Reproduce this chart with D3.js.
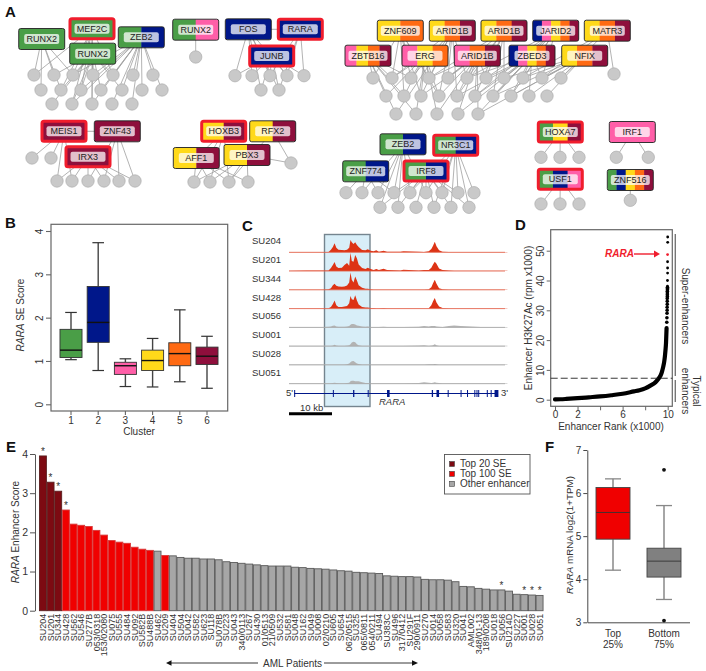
<!DOCTYPE html>
<html><head><meta charset="utf-8">
<script src="https://cdn.jsdelivr.net/npm/d3@7"></script>
<style>
html,body{margin:0;padding:0;background:#fff}
svg{display:block}
text{font-family:"Liberation Sans",Arial,sans-serif;fill:#333}
</style></head><body><svg id="c" width="706" height="671"></svg>
<script>
// ---------- colours
const G="#4a9e47",N="#00178a",P="#ff5fa8",Y="#ffd91a",O="#ff6a13",M="#8e0f3c";

// ---------- Panel A: networks (tf: name, colours, highlight, x, y, targets)
const net1Circles=[[34,75],[54,75],[73,75],[93,75],[113,75],[133,75],[153,75],[41,90],[61,90],[81,90],[101,90],[122,90],[142,90],[162,90],[52,104],[72,104],[92,104],[112,104],[132,104]];
const net1Tfs=[["RUNX2",[G],0,41.7,39,[0,1,7,8,2]],["MEF2C",[G],1,92,28.7,[2,3,8,9,15,0,16,4]],["RUNX2",[G],0,92.7,53.7,[1,2,3,8,9,10,14,15,16,4,11]],["ZEB2",[G,N],0,141.3,37.3,[3,4,5,6,9,10,11,12,13,15,16,17,18,2]]];
const net2Circles=[[195.7,57]];
const net2Tfs=[["RUNX2",[G,P],0,195.7,29.7,[0]]];
const net3Circles=[[235,75.7],[252,75.7],[270,75.7],[287,75.7],[304,75.7],[261,90],[279,90]];
const net3Tfs=[["FOS",[N],0,248.3,29.3,[0,1,2,5,6,3]],["RARA",[N],1,300.3,29.3,[2,3,4,6]],["JUNB",[N],1,271.7,56,[0,1,2,3,4,5,6]]];
const net4Circles=[[32,158],[51,158],[57,181],[72,181],[88,181],[104,181],[119,181],[135,181]];
const net4Tfs=[["MEIS1",[M],1,64,131.3,[0,1,2,3]],["ZNF43",[M],0,117.3,131.3,[5,6,7,4]],["IRX3",[M],1,88,156.7,[2,3,4,5,6,7]]];
const net5Circles=[[194,182],[210,182],[229,182],[248,182],[291,163]];
const net5Tfs=[["HOXB3",[Y,M],1,223.7,131.3,[0,1,2]],["RFX2",[Y,M],0,272.7,131.3,[4,2]],["AFF1",[Y,M],0,196.3,158,[0,1,2,3]],["PBX3",[Y,M],0,247,155,[0,1,2,3,4]]];
const net6Circles=[[373,78],[392,78],[411,78],[429,78],[448,78],[467,78],[486,78],[504,78],[523,78],[542,78],[561,78],[386,96],[404,96],[421,96],[439,96],[457,96],[475,96],[493,96],[511,96],[529,96],[547,96],[396,114],[416,114],[437,114],[458,114],[478,114],[614,74]];
const net6Tfs=[["ZNF609",[Y,O],0,400.3,30.7,[0,1,2,3,12,13,14]],["ARID1B",[Y,O,M],0,452.3,30.7,[1,2,3,4,5,13,14,15,21]],["ARID1B",[Y,O,M],0,504,30.7,[3,4,5,6,7,15,16,17]],["JARID2",[N,P,Y,O,M],0,555.7,30.7,[5,6,7,8,9,16,17,18]],["MATR3",[Y,O,M],0,607.3,30.7,[26,8,9,10]],["ZBTB16",[P,Y,O,M],0,368,55.7,[0,1,2,11,12,21,22]],["ERG",[P,Y,O],0,425,55.7,[1,2,3,11,12,13,14,22,23]],["ARID1B",[P,O,M],0,477.3,55.7,[3,4,5,6,13,14,15,16,23,24,25]],["ZBED3",[N,P,Y,O,M],0,532,55.7,[5,6,7,8,9,15,16,17,18,19,25,24]],["NFIX",[Y,O,M],0,584.7,55.7,[7,8,9,10,17,18,19,20,25]]];
const net7Circles=[[346,192.7],[362,192.7],[378,192.7],[394,192.7],[410,192.7],[426,192.7],[442,192.7],[458,192.7],[474,192.7],[380,207.3],[398,207.3],[416,207.3],[434,207.3],[451,207.3],[469,207.3]];
const net7Tfs=[["ZEB2",[G,N],0,403,144.3,[1,2,3,4,5,9,10]],["NR3C1",[G,N],1,455.7,145.3,[4,5,6,7,8,12,13,14]],["ZNF774",[G,N],0,365.7,171.3,[0,1,2,3]],["IRF8",[G,N],1,426,171,[3,4,5,6,7,9,10,11,12,13,14]]];
const net8Circles=[[541,157.3],[560,157.3],[579,157.3]];
const net8Tfs=[["HOXA7",[G,Y,M],1,560.3,132,[0,1,2]]];
const net9Circles=[[541,204],[560,204],[579,204]];
const net9Tfs=[["USF1",[G,N,P],1,560.3,179.3,[0,1,2]]];
const net10Circles=[[616.3,157.3],[648.3,157.3]];
const net10Tfs=[["IRF1",[P],0,632.3,132,[0,1]]];
const net11Circles=[[630.3,200.3]];
const net11Tfs=[["ZNF516",[G,N,Y,O,M],0,630.3,180,[0]]];
const networks=[[net1Circles,net1Tfs],[net2Circles,net2Tfs],[net3Circles,net3Tfs],[net4Circles,net4Tfs],[net5Circles,net5Tfs],[net6Circles,net6Tfs],[net7Circles,net7Tfs],[net8Circles,net8Tfs],[net9Circles,net9Tfs],[net10Circles,net10Tfs],[net11Circles,net11Tfs]];
const tfLinks=[[2,0,1],[3,0,1],[4,0,2]]; // network, tf, tf joined by a short link

// ---------- Panel B
const clusters=["1","2","3","4","5","6"];
const clusterColors=[G,N,P,Y,O,M];
const seMin=[1.03,0.78,0.41,0.40,0.52,0.37];
const seQ1=[1.08,1.43,0.69,0.78,0.89,0.92];
const seMed=[1.25,1.89,0.89,1.01,1.17,1.11];
const seQ3=[1.73,2.72,0.97,1.25,1.42,1.32];
const seMax=[2.12,3.73,1.05,1.52,2.18,1.57];

// ---------- Panel C
const trackNames=["SU204","SU201","SU344","SU428","SU056","SU001","SU028","SU051"];
const trackPos=[0,4,8,9.2,9.75,10.2,10.6,11,11.5,12.3,12.9,13.5,14,14.3,14.6,15,15.4,15.8,16.2,17,17.8,18.3,19,19.7,20.3,20.9,22,22.8,25.9,26.6,30.2,31.4,32.5,33.1,33.5,33.9,34.3,34.9,35.7,37.2,38.4,39.9,44.6,50.8];
const track204=[1,1,1,1,8,16,27,14,8,7,6,8,14,37,30,25,30,22,16,7,6,9,5,3,6,2,5,2,2,3,2,1,3,10,20,32,18,6,2,1,1,1,1,1];
const track201=[1,2,2,2,9,18,27,14,9,10,18,24,16,55,30,28,48,38,20,9,6,10,6,3,6,3,7,3,2,4,2,3,3,10,20,28,22,8,3,2,1,1,1,1];
const track344=[1,1,1,2,5,14,18,12,10,9,10,13,22,52,30,22,40,28,14,6,3,3,2,1,1,1,1,1,1,1,1,1,2,8,20,30,18,5,2,1,1,1,1,1];
const track428=[1,1,1,1,5,14,24,10,5,5,6,8,16,38,28,26,40,24,12,5,3,3,2,2,1,1,2,1,1,1,1,1,1,10,22,32,18,6,2,1,1,1,1,1];
const track056=[1,1,1,2,3,5,6,3,2,2,2,3,4,8,10,10,9,6,5,3,2,3,1,1,1,1,2,1,1,1,2,4,3,4,4,4,3,2,1,4,6,4,1,1];
const track001=[1,1,1,1,1,2,4,2,1,1,1,2,3,6,11,13,12,6,3,1,1,1,1,1,1,1,1,1,1,1,2,3,1,2,3,6,3,1,1,1,1,1,1,1];
const track028=[1,1,1,1,1,1,1,1,1,1,1,2,4,8,11,12,8,4,3,1,1,1,1,1,1,1,1,1,1,1,1,1,2,2,2,3,2,1,1,1,1,1,1,1];
const track051=[1,1,1,1,1,2,3,2,1,1,1,2,3,7,9,9,7,7,7,4,2,2,1,1,1,1,1,1,1,1,2,4,3,2,3,4,3,2,1,1,1,1,1,1];
const tracks=[track204,track201,track344,track428,track056,track001,track028,track051];
const exonPos=[1.2,10.2,14.9,18.3,22.8,33.2,34.3,36.9,39.9,41.4,43.1,43.6,44,46,46.9,47.8];
const exonWidth=[0.2,0.2,0.3,0.15,0.6,0.3,0.6,0.15,0.2,0.2,0.2,0.2,0.2,0.2,0.2,0.9];

// ---------- Panel D
const curveRank=[0,0.5,1,2,3,4,5,6,7,7.5,8,8.5,8.8,9,9.2,9.3,9.4,9.5,9.6,9.7,9.75,9.8,9.85,9.9];
const curveVal=[0.1,0.15,0.25,0.5,0.8,1.1,1.5,2,2.8,3.2,3.8,4.8,5.5,6.2,7.1,7.7,8.4,9.5,11,13,14.5,16.5,19,24];
const upperRank=[9.92,9.93,9.94,9.95,9.95,9.96,9.96,9.96,9.97,9.97,9.97,9.97,9.98,9.98,9.98,9.98,9.98,9.99,9.99,9.99,9.99,10,10];
const upperVal=[26,27.5,29,30,31,32,33,34,34.6,35.2,35.8,36.4,36.9,37.3,37.7,38.1,40,42.5,44.2,46.3,48.7,52.8,54.6];
const rankTicks=[0,2,4,6,8,10];
const rankLabels=["0","2","","6","","10"];

// ---------- Panel E
const patients=["SU204","SU201","SU344","SU428","SU562","SU546","SU277B","053/0318","153/02080","SU075","SU555","SU484","SU092","SU582B","SU488B","SU462","SU209","SU404","SU504","SU042","SU582","SU623","SU118","SU078B","SU223","SU043","340/0113","SU267","SU430","01/0513","21/0509","SU532","SU581","SU048","SU162","SU049","SU008","02/0210","SU605","SU654","062/0515","SU325","065/0811","054/0211","SU494","SU383C","SU496","317/0412","SU291F","290/0911","SU270","SU014","SU058","SU583","SU320","SU041","AML002","348/01-13","189/0208","SU018","SU056","SU214D","SU227","SU001","SU028","SU051"];
const enhancerScore=[3.95,3.28,3.05,2.57,2.21,2.18,2.15,2.05,1.93,1.79,1.75,1.72,1.62,1.57,1.54,1.52,1.41,1.40,1.36,1.34,1.34,1.32,1.32,1.30,1.25,1.23,1.21,1.19,1.17,1.15,1.14,1.14,1.14,1.11,1.10,1.08,1.07,1.06,1.04,1.02,1.01,0.98,0.97,0.96,0.95,0.89,0.88,0.87,0.87,0.86,0.80,0.79,0.79,0.78,0.74,0.62,0.61,0.57,0.55,0.53,0.53,0.50,0.42,0.41,0.40,0.39];
const topTwenty=["SU204","SU201","SU344"];
const otherRed=["SU428","SU562","SU546","SU277B","053/0318","153/02080","SU075","SU555","SU484","SU092","SU582B","SU488B","SU209"];
const starred=["SU204","SU201","SU344","SU428","SU056","SU001","SU028","SU051"];
const legendLabels=["Top 20 SE","Top 100 SE","Other enhancer"];
const legendColors=["#7d0a12","#f00000","#a6a6a6"];

// ---------- Panel F
const groups=["Top","Bottom"];
const groupSub=["25%","75%"];
const fMin=[4.21,3.53],fQ1=[4.93,4.05],fMed=[5.55,4.42],fQ3=[6.13,4.72],fMax=[6.33,5.71];
const fOutliers=[[1,6.54],[1,3.04]];
const fColors=["#f00000","#808080"];

const svg=d3.select("#c");
const FONT="#333";
const intFmt=d3.format("d");
const defs=svg.append("defs");
function lbl(t,x,y){svg.append("text").attr("x",x).attr("y",y).attr("font-size",15).attr("font-weight","bold").style("fill","#111").text(t);}
lbl("A",5,17);lbl("B",5,228);lbl("C",242,231);lbl("D",515,230);lbl("E",6,452);lbl("F",545,452);

// ===== A
const gA=svg.append("g");
const scaleAX=d3.scaleIdentity(),scaleAY=d3.scaleIdentity();
const BW=46,BH=21;
let clipId=0;
networks.forEach(([circles,tfs],ni)=>{
  const g=gA.append("g");
  tfLinks.filter(l=>l[0]===ni).forEach(l=>{
    g.append("line").attr("x1",scaleAX(tfs[l[1]][3])).attr("y1",scaleAY(tfs[l[1]][4])).attr("x2",scaleAX(tfs[l[2]][3])).attr("y2",scaleAY(tfs[l[2]][4])).attr("stroke","#999").attr("stroke-width",0.8);
  });
  const edges=tfs.flatMap(t=>t[5].map(c=>[t,circles[c]]));
  g.selectAll(".e").data(edges).join("line").attr("x1",d=>scaleAX(d[0][3])).attr("y1",d=>scaleAY(d[0][4])).attr("x2",d=>scaleAX(d[1][0])).attr("y2",d=>scaleAY(d[1][1])).attr("stroke","#a0a0a0").attr("stroke-width",0.8);
  g.selectAll(".c").data(circles).join("circle").attr("cx",d=>scaleAX(d[0])).attr("cy",d=>scaleAY(d[1])).attr("r",6.2).attr("fill","#c9c9c9").attr("stroke","#aeaeae").attr("stroke-width",0.7);
  tfs.forEach(t=>{
    const [name,cols,hi,x,y]=t;
    const id="cl"+(clipId++);
    const w=hi?44:BW,h=hi?20:BH;
    const bg=g.append("g").attr("transform",`translate(${x-w/2},${y-h/2})`);
    defs.append("clipPath").attr("id",id).append("rect").attr("width",w).attr("height",h).attr("rx",2);
    const seg=d3.scaleBand().domain(d3.range(cols.length)).range([0,w]);
    bg.append("g").attr("clip-path",`url(#${id})`).selectAll("rect").data(cols).join("rect").attr("x",(d,i)=>seg(i)).attr("y",0).attr("width",seg.bandwidth()+0.3).attr("height",h).attr("fill",d=>d);
    bg.append("rect").attr("width",w).attr("height",h).attr("rx",2).attr("fill","none").attr("stroke",hi?"#f01d2d":"#1d1d1d").attr("stroke-width",hi?3:0.9);
    const lw=name.length>=6?39:35;
    bg.append("rect").attr("x",(w-lw)/2).attr("y",(h-10)/2).attr("width",lw).attr("height",10).attr("rx",2).attr("fill","#fff").attr("fill-opacity",0.74);
    bg.append("text").attr("x",w/2).attr("y",h/2+3.2).attr("text-anchor","middle").attr("font-size",9).style("fill","#222").text(name);
  });
});

function styleAxis(a,col,sw){a.selectAll("path,line").attr("stroke",col).attr("stroke-width",sw||1);a.selectAll("text").style("fill",FONT).attr("font-family","'Liberation Sans',Arial,sans-serif");}
function rotY(a,fs,dx){a.selectAll(".tick text").attr("font-size",fs).attr("text-anchor","middle").attr("transform",`rotate(-90)`).attr("x",0).attr("y",dx).attr("dy",0);}
function ylabel(x,y,parts,fs){const t=svg.append("text").attr("transform",`translate(${x},${y}) rotate(-90)`).attr("text-anchor","middle").attr("font-size",fs);parts.forEach(p=>t.append("tspan").attr("font-style",p[1]?"italic":"normal").text(p[0]));return t;}

// ===== B
const yB=d3.scaleLinear().domain([0,4]).range([404.3,231]);
const xB=d3.scaleBand().domain(clusters).range([57.4,220.6]).paddingInner(0.19).paddingOuter(0.095);
svg.append("rect").attr("x",51).attr("y",224.3).attr("width",176.7).attr("height",186.7).attr("fill","none").attr("stroke","#666").attr("stroke-width",1.2);
const axYB=svg.append("g").attr("transform","translate(51,0)").call(d3.axisLeft(yB).tickValues([0,1,2,3,4]).tickFormat(intFmt).tickSize(5).tickSizeOuter(0));
axYB.select(".domain").remove();styleAxis(axYB,"#666",1.1);rotY(axYB,10,-8);
const axXB=svg.append("g").attr("transform","translate(0,411)").call(d3.axisBottom(xB).tickSize(4).tickSizeOuter(0));
axXB.select(".domain").remove();styleAxis(axXB,"#666",1.1);axXB.selectAll("text").attr("font-size",10).attr("y",6).attr("dy","0.71em");
clusters.forEach((c,i)=>{
  const cx=xB(c)+xB.bandwidth()/2,b=xB.bandwidth();
  const g=svg.append("g");
  const wl=(a,bb)=>g.append("line").attr("x1",cx).attr("x2",cx).attr("y1",yB(a)).attr("y2",yB(bb)).attr("stroke","#444").attr("stroke-width",1.4);
  wl(seMin[i],seQ1[i]);wl(seQ3[i],seMax[i]);
  [seMin[i],seMax[i]].forEach(v=>g.append("line").attr("x1",cx-5.8).attr("x2",cx+5.8).attr("y1",yB(v)).attr("y2",yB(v)).attr("stroke","#333").attr("stroke-width",1.2));
  g.append("rect").attr("x",xB(c)).attr("y",yB(seQ3[i])).attr("width",b).attr("height",yB(seQ1[i])-yB(seQ3[i])).attr("fill",clusterColors[i]).attr("stroke","#333").attr("stroke-width",0.9);
  g.append("line").attr("x1",xB(c)).attr("x2",xB(c)+b).attr("y1",yB(seMed[i])).attr("y2",yB(seMed[i])).attr("stroke","#111").attr("stroke-width",1.4);
});
ylabel(24,315,[["RARA",1],[" SE Score",0]],10);
svg.append("text").attr("x",139).attr("y",435).attr("text-anchor","middle").attr("font-size",10).text("Cluster");

// ===== C
const xC=d3.scaleLinear().domain([0,10]).range([289,332]);
const hC=d3.scaleLinear().domain([0,60]).range([0,20]);
svg.append("rect").attr("x",324.5).attr("y",234.5).attr("width",45.5).attr("height",172).attr("fill","#d8eef8").attr("stroke","#75858f").attr("stroke-width",1.4);
const baselines=d3.scaleLinear().domain([0,7]).range([252.3,383.7]);
tracks.forEach((vals,i)=>{
  const y0=baselines(i),red=i<4;
  const area=d3.area().x((d,j)=>xC(trackPos[j])).y0(y0).y1(d=>y0-hC(d));
  svg.append("path").datum(vals).attr("d",area).attr("fill",red?"#dd3315":"#b3b3b3");
  svg.append("line").attr("x1",xC(0)).attr("x2",505).attr("y1",y0).attr("y2",y0).attr("stroke",red?"#e2634c":"#a5a5a5").attr("stroke-width",0.8);
  svg.append("text").attr("x",252).attr("y",y0-8).attr("font-size",9.5).text(trackNames[i]);
});
const geneY=393.5;
svg.append("line").attr("x1",xC(1.2)).attr("x2",xC(48.2)).attr("y1",geneY).attr("y2",geneY).attr("stroke",N).attr("stroke-width",1.2);
exonPos.forEach((p,i)=>svg.append("rect").attr("x",xC(p)).attr("y",geneY-3.5).attr("width",Math.max(1,xC(exonWidth[i])-xC(0))).attr("height",7).attr("fill",N));
svg.append("text").attr("x",286).attr("y",396).attr("font-size",9.5).text("5'");
svg.append("text").attr("x",501).attr("y",396).attr("font-size",9.5).text("3'");
svg.append("text").attr("x",379).attr("y",405).attr("font-size",9.5).attr("font-style","italic").text("RARA");
svg.append("text").attr("x",300).attr("y",411).attr("font-size",9.5).text("10 kb");
svg.append("line").attr("x1",xC(0)).attr("x2",xC(10)).attr("y1",413.7).attr("y2",413.7).attr("stroke","#000").attr("stroke-width",3);

// ===== D
const xD=d3.scaleLinear().domain([0,10]).range([555,667.7]);
const yD=d3.scaleLinear().domain([0,50]).range([399.7,250.7]);
svg.append("rect").attr("x",550.7).attr("y",229.7).attr("width",121.6).attr("height",176.6).attr("fill","none").attr("stroke","#666").attr("stroke-width",1.2);
const axYD=svg.append("g").attr("transform","translate(550.7,0)").call(d3.axisLeft(yD).tickValues([0,10,20,30,40,50]).tickFormat(intFmt).tickSize(4).tickSizeOuter(0));
axYD.select(".domain").remove();styleAxis(axYD,"#666",1);rotY(axYD,10,-7);
const axXD=svg.append("g").attr("transform","translate(0,406.3)").call(d3.axisBottom(xD).tickValues(rankTicks).tickFormat((d,i)=>rankLabels[i]).tickSize(4).tickSizeOuter(0));
axXD.select(".domain").remove();styleAxis(axXD,"#666",1);axXD.selectAll("text").attr("font-size",10).attr("y",5).attr("dy","0.71em");
const lineD=d3.line().x(d=>xD(d[0])).y(d=>yD(d[1])).curve(d3.curveMonotoneX);
svg.append("path").datum(curveRank.map((r,i)=>[r,curveVal[i]])).attr("d",lineD).attr("fill","none").attr("stroke","#000").attr("stroke-width",4.2).attr("stroke-linecap","round");
svg.selectAll(".pd").data(upperVal).join("circle").attr("cx",(d,i)=>xD(upperRank[i])).attr("cy",d=>yD(d)).attr("r",d=>d>=38?1.4:1.8).attr("fill",d=>d===48.7?"#f01d2d":"#000");
svg.append("line").attr("x1",550.7).attr("x2",672.3).attr("y1",yD(7.2)).attr("y2",yD(7.2)).attr("stroke","#222").attr("stroke-width",0.9).attr("stroke-dasharray","7 3");
svg.append("line").attr("x1",675.3).attr("x2",675.3).attr("y1",234).attr("y2",376).attr("stroke","#777").attr("stroke-width",1.4);
svg.append("line").attr("x1",675.3).attr("x2",675.3).attr("y1",380).attr("y2",402).attr("stroke","#777").attr("stroke-width",1.4);
function rot90(x,y,t,fs){svg.append("text").attr("transform",`translate(${x},${y}) rotate(90)`).attr("text-anchor","middle").attr("font-size",fs).text(t);}
rot90(682,306,"Super-enhancers",10);
rot90(693,391,"Typical",10);
rot90(682,391,"enhancers",10);
ylabel(532,318,[["Enhancer H3K27Ac (rpm x1000)",0]],10);
svg.append("text").attr("x",611).attr("y",430).attr("text-anchor","middle").attr("font-size",10).text("Enhancer Rank (x1000)");
svg.append("text").attr("x",605).attr("y",256.5).attr("font-size",10).attr("font-style","italic").attr("font-weight","bold").style("fill","#f01d2d").text("RARA");
svg.append("line").attr("x1",634).attr("x2",655).attr("y1",254).attr("y2",254).attr("stroke","#f01d2d").attr("stroke-width",1.4);
svg.append("path").attr("d","M654,250.5L660,254L654,257.5Z").attr("fill","#f01d2d");

// ===== E
const yE=d3.scaleLinear().domain([0,4]).range([610.7,454]);
const xE=d3.scaleBand().domain(patients).range([39.1,543.4]).paddingInner(0.09).paddingOuter(0.045);
const axYE=svg.append("g").attr("transform","translate(35,0)").call(d3.axisLeft(yE).tickValues([0,1,2,3,4]).tickFormat(intFmt).tickSize(5).tickSizeOuter(0));
styleAxis(axYE,"#555",1);axYE.selectAll("text").attr("font-size",10.5).attr("x",-7);
svg.selectAll(".be").data(patients).join("rect").attr("x",d=>xE(d)).attr("y",(d,i)=>yE(enhancerScore[i])).attr("width",xE.bandwidth()).attr("height",(d,i)=>yE(0)-yE(enhancerScore[i]))
  .attr("fill",d=>topTwenty.includes(d)?"#7d0a12":otherRed.includes(d)?"#f00000":"#a6a6a6")
  .attr("stroke",d=>topTwenty.includes(d)?"#5a2020":otherRed.includes(d)?"#d83a3a":"#5a5a5a").attr("stroke-width",0.9);
const axXE=svg.append("g").attr("transform","translate(0,610.7)").call(d3.axisBottom(xE).tickSize(0));
axXE.select(".domain").remove();
axXE.selectAll("text").attr("font-size",9).attr("text-anchor","end").attr("transform","rotate(-90)").attr("x",-3).attr("y",0).attr("dy","0.35em").style("fill","#333").attr("font-family","'Liberation Sans',Arial,sans-serif");
starred.forEach(s=>{
  const i=patients.indexOf(s);
  svg.append("text").attr("x",xE(s)+xE.bandwidth()/2).attr("y",yE(enhancerScore[i])-1).attr("text-anchor","middle").attr("font-size",10).text("*");
});
ylabel(19,532,[["RARA",1],[" Enhancer Score",0]],10);
svg.append("text").attr("x",263).attr("y",666.5).attr("font-size",10).text("AML Patients");
svg.append("line").attr("x1",170).attr("x2",258).attr("y1",663).attr("y2",663).attr("stroke","#222").attr("stroke-width",0.9);
svg.append("path").attr("d","M171.5,660.2L166,663L171.5,665.8Z").attr("fill","#111");
svg.append("line").attr("x1",324).attr("x2",413).attr("y1",663).attr("y2",663).attr("stroke","#222").attr("stroke-width",0.9);
svg.append("path").attr("d","M412,660.2L418,663L412,665.8Z").attr("fill","#111");
svg.append("rect").attr("x",444.5).attr("y",454.5).attr("width",85.5).attr("height",39.5).attr("fill","#fff").attr("stroke","#555").attr("stroke-width",0.9);
legendLabels.forEach((t,i)=>{
  const y=464+i*9.9;
  svg.append("rect").attr("x",449.5).attr("y",y-2.5).attr("width",5).attr("height",5).attr("fill",legendColors[i]).attr("stroke","#444").attr("stroke-width",0.6);
  svg.append("text").attr("x",460).attr("y",y+3.4).attr("font-size",10).text(t);
});

// ===== F
const yF=d3.scaleLinear().domain([3,7]).range([622.3,450]);
const xF=d3.scaleBand().domain(groups).range([587.5,689.5]).paddingInner(1/3).paddingOuter(1/6);
const axYF=svg.append("g").attr("transform","translate(587.3,0)").call(d3.axisLeft(yF).tickValues([3,4,5,6,7]).tickFormat(intFmt).tickSize(4).tickSizeOuter(0));
styleAxis(axYF,"#333",0.9);axYF.selectAll("text").attr("font-size",10).attr("x",-6);
const axXF=svg.append("g").attr("transform","translate(0,622.3)").call(d3.axisBottom(xF).tickSize(0).tickFormat(""));
styleAxis(axXF,"#333",0.9);
groups.forEach((c,i)=>{
  const cx=xF(c)+xF.bandwidth()/2,b=xF.bandwidth();
  const g=svg.append("g");
  const wl=(a,bb)=>g.append("line").attr("x1",cx).attr("x2",cx).attr("y1",yF(a)).attr("y2",yF(bb)).attr("stroke","#888").attr("stroke-width",1.5);
  wl(fMin[i],fQ1[i]);wl(fQ3[i],fMax[i]);
  [fMin[i],fMax[i]].forEach(v=>g.append("line").attr("x1",cx-8).attr("x2",cx+8).attr("y1",yF(v)).attr("y2",yF(v)).attr("stroke","#888").attr("stroke-width",1.3));
  g.append("rect").attr("x",xF(c)).attr("y",yF(fQ3[i])).attr("width",b).attr("height",yF(fQ1[i])-yF(fQ3[i])).attr("fill",fColors[i]).attr("stroke","#444").attr("stroke-width",0.9);
  g.append("line").attr("x1",xF(c)).attr("x2",xF(c)+b).attr("y1",yF(fMed[i])).attr("y2",yF(fMed[i])).attr("stroke","#333").attr("stroke-width",0.9);
  svg.append("text").attr("x",cx).attr("y",637).attr("text-anchor","middle").attr("font-size",10).text(c);
  svg.append("text").attr("x",cx).attr("y",648).attr("text-anchor","middle").attr("font-size",10).text(groupSub[i]);
});
svg.selectAll(".of").data(fOutliers).join("circle").attr("cx",d=>xF(groups[d[0]])+xF.bandwidth()/2).attr("cy",d=>yF(d[1])).attr("r",1.9).attr("fill","#111");
ylabel(573,535,[["RARA",1],[" mRNA log2(1+TPM)",0]],9.8);
</script></body></html>
